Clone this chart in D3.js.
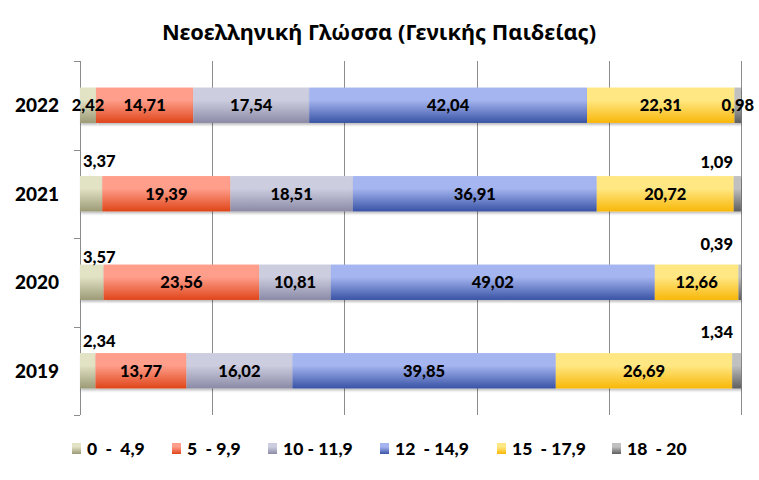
<!DOCTYPE html>
<html>
<head>
<meta charset="utf-8">
<script src="https://cdn.jsdelivr.net/npm/d3@7"></script>
<style>
  body { margin: 0; background: #fff; }
  text { font-family: Lato, "Noto Sans", sans-serif; font-weight: 900; fill: #000; }
</style>
</head>
<body>
<div id="chart"></div>
<script>
const years = ['2022', '2021', '2020', '2019'];
const groups = ['0  -  4,9', '5  - 9,9', '10 - 11,9', '12  - 14,9', '15  - 17,9', '18  - 20'];
const v0_49 = [2.42, 3.37, 3.57, 2.34];
const v5_99 = [14.71, 19.39, 23.56, 13.77];
const v10_119 = [17.54, 18.51, 10.81, 16.02];
const v12_149 = [42.04, 36.91, 49.02, 39.85];
const v15_179 = [22.31, 20.72, 12.66, 26.69];
const v18_20 = [0.98, 1.09, 0.39, 1.34];
const xTicks = [0, 20, 40, 60, 80, 100];

const series = [v0_49, v5_99, v10_119, v12_149, v15_179, v18_20];
const gradStops = [
    ['#e2e2c4', '#9c9a76'],
    ['#ff9e8b', '#df4519'],
    ['#cdcde0', '#8a8aa6'],
    ['#a5b5f0', '#3953a5'],
    ['#ffe884', '#f8b708'],
    ['#c0c0c0', '#5e5e5e']
];

const W = 759, H = 480;
const margin = { top: 61, right: 18, bottom: 65, left: 80 };
const width = W - margin.left - margin.right,
      height = H - margin.top - margin.bottom;

const svg = d3.select('#chart').append('svg')
    .attr('width', W)
    .attr('height', H);

const defs = svg.append('defs');
gradStops.forEach(function (c, i) {
    let g = defs.append('linearGradient')
        .attr('id', 'grad' + i)
        .attr('x1', 0).attr('y1', 0).attr('x2', 0).attr('y2', 1);
    g.append('stop').attr('offset', '0%').attr('stop-color', c[0]);
    g.append('stop').attr('offset', '35%').attr('stop-color', c[0]);
    g.append('stop').attr('offset', '100%').attr('stop-color', c[1]);
});
let shadow = defs.append('filter').attr('id', 'shadow')
    .attr('x', '-5%').attr('y', '-20%').attr('width', '110%').attr('height', '160%');
shadow.append('feDropShadow')
    .attr('dx', 1).attr('dy', 2).attr('stdDeviation', 1.2)
    .attr('flood-color', '#000').attr('flood-opacity', 0.25);

// title
svg.append('text')
    .attr('x', 379).attr('y', 40)
    .attr('text-anchor', 'middle')
    .style('font-family', '"Noto Sans", "Open Sans", sans-serif')
    .style('font-weight', 'bold')
    .style('font-size', '21.8px')
    .text('Νεοελληνική Γλώσσα (Γενικής Παιδείας)');

const g = svg.append('g')
    .attr('transform', 'translate(' + margin.left + ',' + margin.top + ')');

const x = d3.scaleLinear().domain([0, 100]).range([0, width]);
const y = d3.scaleBand().domain(years).range([0, height]).padding(0);
const barH = y.bandwidth() * 0.4;

// vertical gridlines
g.selectAll('.grid')
    .data(xTicks)
    .enter().append('line')
    .attr('class', 'grid')
    .attr('x1', d => Math.round(x(d)) + 0.5)
    .attr('x2', d => Math.round(x(d)) + 0.5)
    .attr('y1', 0)
    .attr('y2', height)
    .attr('stroke', '#8c8c8c')
    .attr('stroke-width', 1);

// left axis ticks at band boundaries
const bounds = years.map(d => y(d)).concat([height]);
g.selectAll('.ytick')
    .data(bounds)
    .enter().append('line')
    .attr('x1', -6).attr('x2', 0)
    .attr('y1', d => Math.round(d) + 0.5)
    .attr('y2', d => Math.round(d) + 0.5)
    .attr('stroke', '#8c8c8c');

// year labels
g.selectAll('.ylab')
    .data(years)
    .enter().append('text')
    .attr('x', -21)
    .attr('y', d => y(d) + y.bandwidth() / 2)
    .attr('dy', '0.36em')
    .attr('text-anchor', 'end')
    .style('font-size', '19px')
    .text(d => d);

// stacked bars
const rows = years.map(function (yr, i) {
    let o = { year: yr };
    groups.forEach(function (k, j) { o[k] = series[j][i]; });
    return o;
});
const stack = d3.stack().keys(groups)(rows);

const layers = g.selectAll('.layer')
    .data(stack)
    .enter().append('g')
    .attr('class', 'layer')
    .attr('fill', (d, i) => 'url(#grad' + i + ')');

layers.selectAll('rect')
    .data(d => d)
    .enter().append('rect')
    .attr('x', d => x(d[0]))
    .attr('width', d => x(d[1]) - x(d[0]))
    .attr('y', d => y(d.data.year) + (y.bandwidth() - barH) / 2)
    .attr('height', barH)
    .attr('filter', 'url(#shadow)');

// data labels
const fmt = v => v.toFixed(2).replace('.', ',');
stack.forEach(function (layer, j) {
    layer.forEach(function (d, i) {
        let val = d[1] - d[0];
        let cy = y(d.data.year) + y.bandwidth() / 2;
        let top = y(d.data.year) + (y.bandwidth() - barH) / 2;
        let t = g.append('text').style('font-size', '16.5px').text(fmt(val));
        if (i === 0 || (j > 0 && j < groups.length - 1)) {
            // inside the bar, centred on the segment
            t.attr('x', x((d[0] + d[1]) / 2)).attr('y', cy).attr('dy', '0.36em')
             .attr('text-anchor', 'middle');
        } else if (j === 0) {
            // small first segment: label sits above the bar, left edge
            let lift = [0, 9, 2, 6][i];
            t.attr('x', x(d[0]) + 3).attr('y', top - lift).attr('text-anchor', 'start');
        } else {
            // small last segment: label above the bar, right aligned
            let lift = [0, 8, 15, 15][i];
            t.attr('x', width - 8).attr('y', top - lift).attr('text-anchor', 'end');
        }
    });
});

// legend
const legendX = [72, 172, 268, 380, 497, 612];
const legend = svg.append('g');
groups.forEach(function (k, i) {
    legend.append('rect')
        .attr('x', legendX[i]).attr('y', 443)
        .attr('width', 9).attr('height', 11)
        .attr('fill', 'url(#grad' + i + ')');
    legend.append('text')
        .attr('x', legendX[i] + 15).attr('y', 449)
        .attr('dy', '0.36em')
        .style('font-size', '17.5px')
        .style('white-space', 'pre')
        .attr('xml:space', 'preserve')
        .text(k);
});
</script>
</body>
</html>
